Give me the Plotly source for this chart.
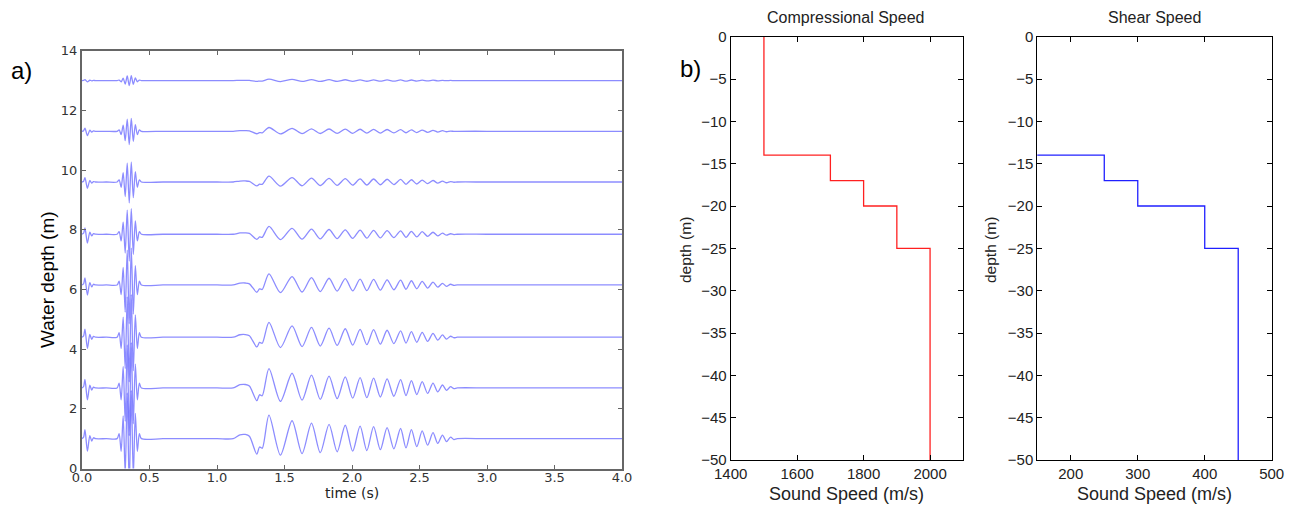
import plotly.graph_objects as go

# page body adds an 8px margin, so the figure is drawn 8px smaller and offset
OFF = 8
W, H = 1299 - OFF, 512 - OFF

# ---- panel a: waveforms at different water depths ----
baselines = [13.0, 11.3, 9.6, 7.85, 6.15, 4.4, 2.7, 1.0]
early_amp = [0.1, 0.35, 0.5, 0.7, 0.8, 0.9, 0.95, 1.0]
pulse_amp = [0.17, 0.45, 0.7, 0.9, 1.3, 1.5, 1.6, 1.7]
disp_amp = [0.06, 0.16, 0.25, 0.33, 0.47, 0.63, 0.82, 1.0]

# extrema (time in s, deflection in m)
early_t = [0.0, 0.012, 0.022, 0.04, 0.058, 0.072, 0.085, 0.1, 0.18, 0.26]
early_v = [0.0, 0.05, 0.3, -0.42, 0.1, -0.08, 0.03, 0.0, 0.0, 0.0]
pulse_t = [0.275, 0.29, 0.305, 0.32, 0.335, 0.35, 0.365, 0.38, 0.395, 0.41, 0.425,
           0.44, 0.6, 0.8, 1.0, 1.12]
pulse_v = [0.1, -0.25, 0.45, -0.7, 0.9, -1.0, 0.95, -0.75, 0.5, -0.25, 0.1,
           0.0, 0.0, 0.0, 0.0, 0.0]
disp_t = [1.17, 1.21, 1.24, 1.295, 1.315, 1.335, 1.385, 1.47, 1.556, 1.63, 1.70,
          1.765, 1.83, 1.89, 1.95, 2.005, 2.06, 2.11, 2.16, 2.21, 2.26, 2.31, 2.36,
          2.40, 2.44, 2.48, 2.52, 2.56, 2.60, 2.635, 2.67, 2.70, 2.73, 2.755, 2.78,
          3.0, 3.5, 4.0]
disp_v = [0.13, 0.14, 0.08, -0.52, -0.28, -0.32, 0.79, -0.55, 0.6, -0.5, 0.52,
          -0.47, 0.48, -0.44, 0.45, -0.42, 0.42, -0.4, 0.4, -0.37, 0.37, -0.34, 0.34,
          -0.31, 0.3, -0.27, 0.26, -0.22, 0.2, -0.16, 0.12, -0.1, 0.05, -0.03, 0.0,
          0.0, 0.0, 0.0]

# ---- panel b: layered bottom model ----
layer_top = [0, -14, -17, -20, -25]
layer_bottom = [-14, -17, -20, -25, -50]
vp = [1500, 1700, 1800, 1900, 2000]
vs = [0, 250, 300, 400, 450]


def step_profile(speeds):
    xs, ys = [], []
    for s, top, bot in zip(speeds, layer_top, layer_bottom):
        xs += [s, s]
        ys += [top, bot]
    return xs, ys


def px(x):
    return (x - OFF) / W


def py(y):
    return 1 - (y - OFF) / H


fig = go.Figure()

for i, base in enumerate(baselines):
    t = early_t + pulse_t + disp_t
    v = ([base + early_amp[i] * a for a in early_v]
         + [base + pulse_amp[i] * a for a in pulse_v]
         + [base + disp_amp[i] * a for a in disp_v])
    fig.add_trace(go.Scatter(x=t, y=v, mode="lines", xaxis="x", yaxis="y",
                             line=dict(color="rgba(0,0,255,0.45)", width=1.3,
                                       shape="spline", smoothing=0.8),
                             showlegend=False, hoverinfo="skip"))

xp, yp = step_profile(vp)
fig.add_trace(go.Scatter(x=xp, y=yp, mode="lines", xaxis="x2", yaxis="y2",
                         line=dict(color="#ff2020", width=1.3), showlegend=False))
xs_, ys_ = step_profile(vs)
fig.add_trace(go.Scatter(x=xs_, y=ys_, mode="lines", xaxis="x3", yaxis="y3",
                         line=dict(color="#2020ff", width=1.3), showlegend=False))

axa = dict(showline=True, linecolor="#666", linewidth=2, mirror="ticks",
           ticks="inside", ticklen=4, tickcolor="#666", showgrid=False, zeroline=False,
           automargin=False,
           tickfont=dict(family="DejaVu Sans", size=13, color="#333"))
axb = dict(showline=True, linecolor="black", linewidth=1, mirror="ticks",
           ticks="inside", ticklen=5, tickcolor="black", showgrid=False, zeroline=False,
           automargin=False,
           tickfont=dict(family="Liberation Sans", size=15, color="#222"))

fig.update_layout(
    width=W, height=H, margin=dict(l=0, r=0, t=0, b=0, pad=0),
    paper_bgcolor="white", plot_bgcolor="white",
    xaxis=dict(axa, domain=[px(82), px(622)], range=[0, 4], dtick=0.5,
               tickformat=".1f", anchor="y", ticklabelstandoff=-4),
    yaxis=dict(axa, domain=[py(468.5), py(50.7)], range=[0, 14], dtick=2,
               anchor="x"),
    xaxis2=dict(axb, domain=[px(730.7), px(963.3)], range=[1400, 2100],
                tickvals=[1400, 1600, 1800, 2000], anchor="y2"),
    yaxis2=dict(axb, domain=[py(460), py(36.7)], range=[-50, 0], dtick=5,
                anchor="x2"),
    xaxis3=dict(axb, domain=[px(1037.3), px(1271.7)], range=[150, 500],
                tickvals=[200, 300, 400, 500], anchor="y3"),
    yaxis3=dict(axb, domain=[py(460), py(36.7)], range=[-50, 0], dtick=5,
                anchor="x3"),
)

notes = [
    ("a)", 22, 70, 24, "Liberation Sans", "black", 0),
    ("Water depth (m)", 47, 280, 19, "Liberation Sans", "black", -90),
    ("time (s)", 352, 493, 14, "DejaVu Sans", "#222", 0),
    ("b)", 690, 68, 24, "Liberation Sans", "black", 0),
    ("Compressional Speed", 845, 17, 16, "Liberation Sans", "#222", 0),
    ("Shear Speed", 1154, 17, 16, "Liberation Sans", "#222", 0),
    ("depth (m)", 685, 250, 15.5, "Liberation Sans", "#222", -90),
    ("depth (m)", 990, 250, 15.5, "Liberation Sans", "#222", -90),
    ("Sound Speed (m/s)", 846, 494, 18, "Liberation Sans", "#222", 0),
    ("Sound Speed (m/s)", 1154, 494, 18, "Liberation Sans", "#222", 0),
]
for text, x, y, size, fam, col, ang in notes:
    fig.add_annotation(text=text, x=px(x), y=py(y), xref="paper", yref="paper",
                       showarrow=False, xanchor="center", yanchor="middle",
                       textangle=ang, font=dict(family=fam, size=size, color=col))

fig.write_html("out.html")
